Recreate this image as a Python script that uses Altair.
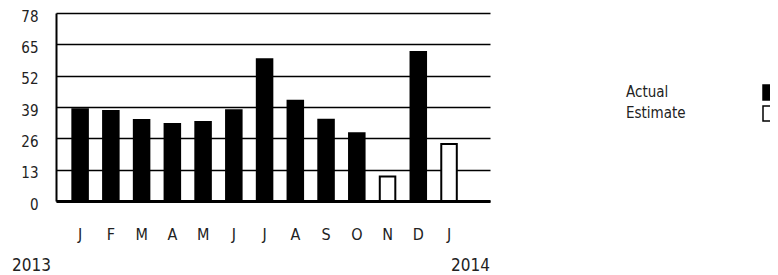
import altair as alt
import pandas as pd

# ---- data ----
months = ["J", "F", "M", "A", "M", "J", "J", "A", "S", "O", "N", "D", "J"]
values = [38.1, 37.3, 33.6, 31.9, 32.8, 37.7, 58.8, 41.6, 33.7, 28.1, 10.2, 61.8, 23.7]
kinds = ["Actual"] * 10 + ["Estimate", "Actual", "Estimate"]
y_ticks = [0, 13, 26, 39, 52, 65, 78]
years = ["2013", "2014"]
legend_labels = ["Actual", "Estimate"]
legend_fills = ["black", "white"]

FONT = "DejaVu Sans Condensed, Liberation Sans Narrow, sans-serif"
TXT = "#222222"
W, H = 434, 188

df = pd.DataFrame({"idx": list(range(len(months))), "month": months,
                   "value": values, "kind": kinds})

label_expr = "[" + ",".join("'%s'" % m for m in months) + "][datum.value]"

bars = alt.Chart(df).mark_bar(stroke="black", strokeWidth=2).encode(
    x=alt.X("idx:O",
            scale=alt.Scale(paddingInner=0.495, paddingOuter=0.806, align=0.33),
            axis=alt.Axis(title=None, labelExpr=label_expr, labelAngle=0, ticks=False,
                          domainColor="black", domainWidth=3, labelPadding=25,
                          labelFont=FONT, labelFontSize=16, labelColor=TXT,
                          labelBaseline="top")),
    y=alt.Y("value:Q",
            scale=alt.Scale(domain=[0, 78], nice=False, zero=True),
            axis=alt.Axis(title=None, values=y_ticks, grid=True, gridColor="black",
                          gridWidth=1.6, gridOpacity=1, ticks=False,
                          domainColor="black", domainWidth=2, labelPadding=18,
                          labelOffset=3,
                          labelFont=FONT, labelFontSize=15, labelColor=TXT)),
    fill=alt.Fill("kind:N", scale=alt.Scale(domain=legend_labels, range=legend_fills),
                  legend=None),
)

layers = [bars]

# year labels
year_x = [-44, W]
year_align = ["left", "right"]
for yr, xv, al in zip(years, year_x, year_align):
    layers.append(
        alt.Chart(pd.DataFrame({"t": [yr]})).mark_text(
            font=FONT, fontSize=17, color=TXT, align=al, baseline="alphabetic"
        ).encode(text="t:N", x=alt.value(xv), y=alt.value(258))
    )

# custom legend (labels left, swatches right, cut by the right edge)
leg_y = [79, 100]
for lab, fillc, yv in zip(legend_labels, legend_fills, leg_y):
    layers.append(
        alt.Chart(pd.DataFrame({"t": [lab]})).mark_text(
            font=FONT, fontSize=15, color=TXT, align="left", baseline="middle"
        ).encode(text="t:N", x=alt.value(570), y=alt.value(yv))
    )
    layers.append(
        alt.Chart(pd.DataFrame({"t": [lab]})).mark_rect(
            fill=fillc, stroke="black", strokeWidth=1.5
        ).encode(x=alt.value(707), x2=alt.value(723),
                 y=alt.value(yv - 7), y2=alt.value(yv + 8))
    )

chart = alt.layer(*layers).properties(
    width=W, height=H,
    autosize=alt.AutoSizeParams(type="none"),
    padding={"left": 48, "top": 5, "right": 280, "bottom": 74},
).configure_view(stroke=None)

chart.save("out.html", embed_options={"renderer": "svg", "actions": False})
